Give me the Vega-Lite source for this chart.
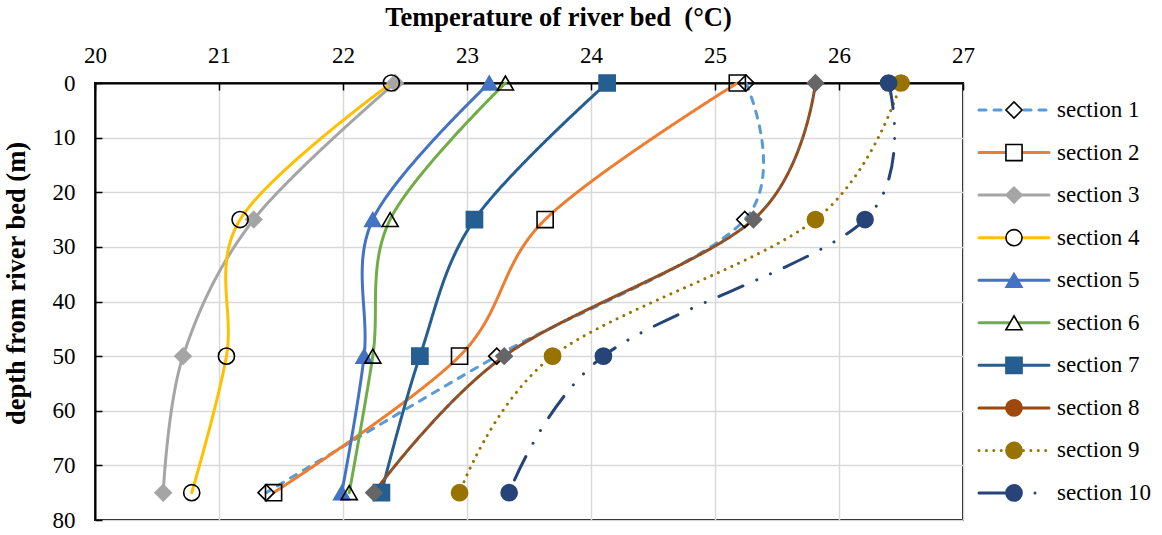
{
  "$schema": "https://vega.github.io/schema/vega-lite/v6.json",
  "padding": {"left": 2, "top": 3, "right": 0, "bottom": 0},
  "background": "white",
  "bounds": "flush",
  "spacing": 10,
  "config": {
    "font": "Liberation Serif",
    "axis": {"labelFont": "Liberation Serif", "titleFont": "Liberation Serif", "labelColor": "black", "titleColor": "black", "labelFlush": false}
  },
  "data": {
    "values": [
      {"section": "section 1", "depth": 0, "temp": 25.25},
      {"section": "section 1", "depth": 25, "temp": 25.24},
      {"section": "section 1", "depth": 50, "temp": 23.24},
      {"section": "section 1", "depth": 75, "temp": 21.38},
      {"section": "section 2", "depth": 0, "temp": 25.18},
      {"section": "section 2", "depth": 25, "temp": 23.63},
      {"section": "section 2", "depth": 50, "temp": 22.94},
      {"section": "section 2", "depth": 75, "temp": 21.44},
      {"section": "section 3", "depth": 0, "temp": 22.42},
      {"section": "section 3", "depth": 25, "temp": 21.28},
      {"section": "section 3", "depth": 50, "temp": 20.71},
      {"section": "section 3", "depth": 75, "temp": 20.55},
      {"section": "section 4", "depth": 0, "temp": 22.39},
      {"section": "section 4", "depth": 25, "temp": 21.17},
      {"section": "section 4", "depth": 50, "temp": 21.06},
      {"section": "section 4", "depth": 75, "temp": 20.78},
      {"section": "section 5", "depth": 0, "temp": 23.18},
      {"section": "section 5", "depth": 25, "temp": 22.24},
      {"section": "section 5", "depth": 50, "temp": 22.17},
      {"section": "section 5", "depth": 75, "temp": 21.99},
      {"section": "section 6", "depth": 0, "temp": 23.31},
      {"section": "section 6", "depth": 25, "temp": 22.38},
      {"section": "section 6", "depth": 50, "temp": 22.24},
      {"section": "section 6", "depth": 75, "temp": 22.05},
      {"section": "section 7", "depth": 0, "temp": 24.13},
      {"section": "section 7", "depth": 25, "temp": 23.06},
      {"section": "section 7", "depth": 50, "temp": 22.62},
      {"section": "section 7", "depth": 75, "temp": 22.31},
      {"section": "section 8", "depth": 0, "temp": 25.81},
      {"section": "section 8", "depth": 25, "temp": 25.31},
      {"section": "section 8", "depth": 50, "temp": 23.30},
      {"section": "section 8", "depth": 75, "temp": 22.25},
      {"section": "section 9", "depth": 0, "temp": 26.50},
      {"section": "section 9", "depth": 25, "temp": 25.81},
      {"section": "section 9", "depth": 50, "temp": 23.69},
      {"section": "section 9", "depth": 75, "temp": 22.94},
      {"section": "section 10", "depth": 0, "temp": 26.40},
      {"section": "section 10", "depth": 25, "temp": 26.21},
      {"section": "section 10", "depth": 50, "temp": 24.10},
      {"section": "section 10", "depth": 75, "temp": 23.34}
    ]
  },
  "resolve": {"scale": {"shape": "independent", "fill": "independent", "stroke": "independent"}},
  "hconcat": [
    {
      "width": 868,
      "height": 437,
      "view": {"stroke": "black", "strokeWidth": 2},
      "layer": [
        {
          "mark": {"type": "line", "interpolate": "cardinal", "tension": 0, "strokeWidth": 3, "strokeCap": "round"},
          "encoding": {
            "x": {
              "field": "temp", "type": "quantitative",
              "scale": {"domain": [20, 27], "nice": false, "zero": false},
              "axis": {
                "orient": "top", "values": [20, 21, 22, 23, 24, 25, 26, 27], "format": "d",
                "title": "Temperature of river bed\u00a0 (°C)",
                "titleFontSize": 26.5, "titleFontWeight": "bold", "titleX": 463, "titlePadding": 13,
                "labelFontSize": 23, "labelPadding": 23, "tickSize": -7, "tickColor": "black", "tickWidth": 1.5,
                "domainColor": "black", "domainWidth": 2,
                "grid": true, "gridColor": "#D9D9D9", "gridWidth": 1.5
              }
            },
            "y": {
              "field": "depth", "type": "quantitative",
              "scale": {"domain": [0, 80], "reverse": true, "nice": false, "zero": false},
              "axis": {
                "orient": "left", "values": [0, 10, 20, 30, 40, 50, 60, 70, 80], "format": "d",
                "title": "depth from river bed (m)",
                "titleFontSize": 26.5, "titleFontWeight": "bold", "titleY": 200, "titlePadding": 22,
                "labelFontSize": 23, "labelPadding": 27, "tickSize": -7, "tickColor": "black", "tickWidth": 1.5,
                "domainColor": "black", "domainWidth": 2,
                "grid": true, "gridColor": "#D9D9D9", "gridWidth": 1.5
              }
            },
            "order": {"field": "depth", "type": "quantitative"},
            "color": {
              "field": "section", "type": "nominal", "legend": null,
              "scale": {
                "domain": ["section 1", "section 2", "section 3", "section 4", "section 5", "section 6", "section 7", "section 8", "section 9", "section 10"],
                "range": ["#5B9BD5", "#ED7D31", "#A5A5A5", "#FFC000", "#4472C4", "#70AD47", "#255E91", "#9E480E", "#997300", "#264478"]
              }
            },
            "strokeDash": {
              "field": "section", "type": "nominal", "legend": null,
              "scale": {
                "domain": ["section 1", "section 2", "section 3", "section 4", "section 5", "section 6", "section 7", "section 8", "section 9", "section 10"],
                "range": [[7, 8], [1, 0], [1, 0], [1, 0], [1, 0], [1, 0], [1, 0], [1, 0], [0.01, 7.4], [26, 15, 0.01, 15, 0.01, 15]]
              }
            }
          }
        },
        {
          "transform": [{"filter": "datum.section === 'section 8'"}],
          "mark": {"type": "line", "interpolate": "cardinal", "tension": 0, "strokeWidth": 1.5, "color": "#666666", "strokeDash": [6, 5]},
          "encoding": {
            "x": {"field": "temp", "type": "quantitative"},
            "y": {"field": "depth", "type": "quantitative"},
            "order": {"field": "depth", "type": "quantitative"}
          }
        },
        {
          "mark": {"type": "point", "size": 260, "strokeWidth": 1.6, "opacity": 1},
          "encoding": {
            "x": {"field": "temp", "type": "quantitative"},
            "y": {"field": "depth", "type": "quantitative"},
            "shape": {
              "field": "section", "type": "nominal", "legend": null,
              "scale": {
                "domain": ["section 1", "section 2", "section 3", "section 4", "section 5", "section 6", "section 7", "section 8", "section 9", "section 10"],
                "range": ["diamond", "square", "diamond", "circle", "triangle-up", "triangle-up", "square", "diamond", "circle", "circle"]
              }
            },
            "fill": {
              "field": "section", "type": "nominal", "legend": null,
              "scale": {
                "domain": ["section 1", "section 2", "section 3", "section 4", "section 5", "section 6", "section 7", "section 8", "section 9", "section 10"],
                "range": ["transparent", "transparent", "#A5A5A5", "transparent", "#4472C4", "transparent", "#255E91", "#666666", "#997300", "#264478"]
              }
            },
            "stroke": {
              "field": "section", "type": "nominal", "legend": null,
              "scale": {
                "domain": ["section 1", "section 2", "section 3", "section 4", "section 5", "section 6", "section 7", "section 8", "section 9", "section 10"],
                "range": ["black", "black", "#A5A5A5", "black", "#4472C4", "black", "#255E91", "#666666", "#997300", "#264478"]
              }
            }
          }
        }
      ]
    },
    {
      "width": 185,
      "height": 437,
      "view": {"stroke": null},
      "transform": [{"filter": "datum.depth === 0"}],
      "layer": [
        {
          "mark": {"type": "rule", "strokeWidth": 3, "strokeCap": "round"},
          "encoding": {
            "x": {"datum": 6, "type": "quantitative", "scale": {"domain": [0, 185], "nice": false, "zero": false}, "axis": null},
            "x2": {"datum": 76},
            "y": {
              "field": "section", "type": "nominal", "axis": null,
              "scale": {"type": "point", "padding": 0.635, "domain": ["section 1", "section 2", "section 3", "section 4", "section 5", "section 6", "section 7", "section 8", "section 9", "section 10"]}
            },
            "color": {"field": "section", "type": "nominal", "legend": null},
            "strokeDash": {"field": "section", "type": "nominal", "legend": null}
          }
        },
        {
          "mark": {"type": "point", "size": 260, "strokeWidth": 1.6, "opacity": 1},
          "encoding": {
            "x": {"datum": 41, "type": "quantitative"},
            "y": {"field": "section", "type": "nominal"},
            "shape": {
              "field": "section", "type": "nominal", "legend": null,
              "scale": {
                "domain": ["section 1", "section 2", "section 3", "section 4", "section 5", "section 6", "section 7", "section 8", "section 9", "section 10"],
                "range": ["diamond", "square", "diamond", "circle", "triangle-up", "triangle-up", "square", "circle", "circle", "circle"]
              }
            },
            "fill": {
              "field": "section", "type": "nominal", "legend": null,
              "scale": {
                "domain": ["section 1", "section 2", "section 3", "section 4", "section 5", "section 6", "section 7", "section 8", "section 9", "section 10"],
                "range": ["white", "white", "#A5A5A5", "white", "#4472C4", "white", "#255E91", "#9E480E", "#997300", "#264478"]
              }
            },
            "stroke": {
              "field": "section", "type": "nominal", "legend": null,
              "scale": {
                "domain": ["section 1", "section 2", "section 3", "section 4", "section 5", "section 6", "section 7", "section 8", "section 9", "section 10"],
                "range": ["black", "black", "#A5A5A5", "black", "#4472C4", "black", "#255E91", "#9E480E", "#997300", "#264478"]
              }
            }
          }
        },
        {
          "mark": {"type": "text", "align": "left", "baseline": "middle", "fontSize": 23, "font": "Liberation Serif", "color": "black"},
          "encoding": {
            "x": {"datum": 84, "type": "quantitative"},
            "y": {"field": "section", "type": "nominal"},
            "text": {"field": "section", "type": "nominal"}
          }
        }
      ]
    }
  ]
}
